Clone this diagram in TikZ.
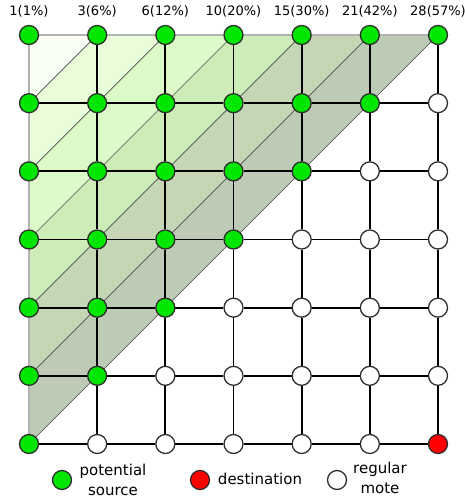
\documentclass[tikz,border=0pt]{standalone}
\usepackage{fontspec}
\setmainfont{DejaVu Sans}
\definecolor{srcgreen}{RGB}{0,230,0}
\definecolor{tone1}{HTML}{F8FEF3}
\definecolor{tone2}{HTML}{EAFDDB}
\definecolor{tone3}{HTML}{DCFAC8}
\definecolor{tone4}{HTML}{CDECB8}
\definecolor{tone5}{HTML}{C4D6B6}
\definecolor{tone6}{HTML}{BDCAB6}
\pgfdeclarelayer{bg}
\pgfsetlayers{bg,main}
\begin{document}
\begin{tikzpicture}[x=1pt,y=-1pt,
  mote/.style={circle,minimum size=19pt,inner sep=0pt,draw=black!82,line width=1.3pt},
  src/.style={mote,fill=srcgreen},
  dst/.style={mote,fill=red},
  reg/.style={mote,fill=white},
  link/.style={line width=1.7pt,black},
  diag/.style={line width=0.6pt,black!70},
  rim/.style={line width=1.8pt,black!30},
  toplab/.style={font=\fontsize{13}{15}\selectfont,anchor=base,inner sep=0pt},
  leglab/.style={font=\fontsize{15}{20}\selectfont,align=center,inner sep=0pt}]
\useasboundingbox (0,0) rectangle (465,500);
\foreach \i in {0,...,6} {
  \foreach \j in {0,...,6} {
    \pgfmathtruncatemacro\s{\i+\j}
    \ifnum\s<7 \def\st{src}\else\def\st{reg}\fi
    \ifnum\i=6 \ifnum\j=6 \def\st{dst}\fi\fi
    \node[\st] (n-\i-\j) at ({29+68.1667*\i},{35+68.1667*\j}) {};
  }
}
\foreach \i/\t in {0/1(1\%),1/3(6\%),2/6(12\%),3/10(20\%),4/15(30\%),5/21(42\%),6/28(57\%)} {
  \node[toplab] (lab-\i) at ({29+68.1667*\i},16) {\t};
}
\begin{pgfonlayer}{bg}
  \foreach \k/\c in {6/tone6,5/tone5,4/tone4,3/tone3,2/tone2,1/tone1} {
    \fill[\c] (n-0-0.center) -- (n-\k-0.center) -- (n-0-\k.center) -- cycle;
  }
  \foreach \k in {1,...,6} {
    \draw[diag] (n-\k-0.center) -- (n-0-\k.center);
  }
  \foreach \a in {0,...,5} {
    \pgfmathtruncatemacro\b{\a+1}
    \foreach \c in {1,...,6} {
      \draw[link] (n-\a-\c) -- (n-\b-\c);
      \draw[link] (n-\c-\a) -- (n-\c-\b);
    }
    \draw[rim] (n-\a-0) -- (n-\b-0);
    \draw[rim] (n-0-\a) -- (n-0-\b);
  }
\end{pgfonlayer}
\node[src] (leg-src) at (62,480) {};
\node[leglab,anchor=north] (leg-src-t) at (113,464) {potential\\source};
\node[dst] (leg-dst) at (200,480) {};
\node[leglab,anchor=base] (leg-dst-t) at (260,484.5) {destination};
\node[reg] (leg-reg) at (337,480) {};
\node[leglab,anchor=north] (leg-reg-t) at (380,462) {regular\\mote};
\end{tikzpicture}
\end{document}
